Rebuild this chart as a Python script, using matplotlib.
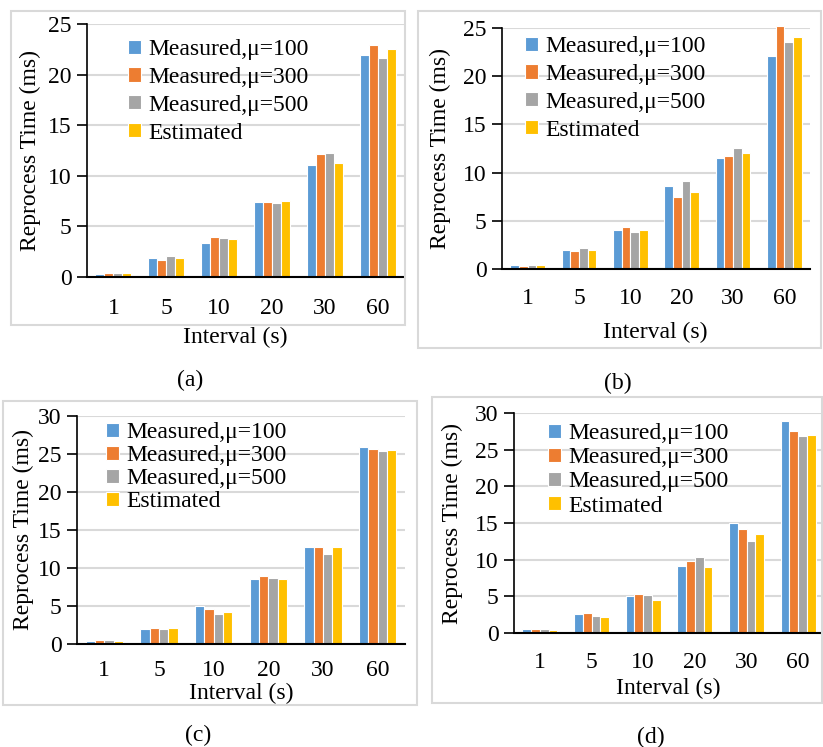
import numpy as np
import matplotlib
matplotlib.use('Agg')
import matplotlib.pyplot as plt
from matplotlib.patches import Rectangle

plt.rcParams['font.family'] = ['Liberation Serif', 'DejaVu Serif']

#########################
######### DATA
#########################

intervals = ['1', '5', '10', '20', '30', '60']
series = ['Measured,μ=100', 'Measured,μ=300', 'Measured,μ=500', 'Estimated']
colors = ['#5B9BD5', '#ED7D31', '#A5A5A5', '#FFC000']

# panel (a)
a_mu100 = [0.33, 1.90, 3.40, 7.40, 11.08, 21.90]
a_mu300 = [0.40, 1.70, 3.95, 7.37, 12.17, 22.96]
a_mu500 = [0.40, 2.10, 3.90, 7.27, 12.24, 21.68]
a_est = [0.35, 1.85, 3.75, 7.50, 11.25, 22.53]

# panel (b)
b_mu100 = [0.38, 2.00, 4.05, 8.58, 11.55, 22.13]
b_mu300 = [0.35, 1.87, 4.40, 7.43, 11.72, 25.17]
b_mu500 = [0.45, 2.21, 3.87, 9.10, 12.55, 23.55]
b_est = [0.41, 2.00, 4.00, 8.02, 12.00, 24.03]

# panel (c)
c_mu100 = [0.40, 1.97, 5.00, 8.55, 12.72, 25.96]
c_mu300 = [0.53, 2.06, 4.56, 8.95, 12.80, 25.60]
c_mu500 = [0.53, 1.93, 3.90, 8.64, 11.84, 25.44]
c_est = [0.40, 2.15, 4.25, 8.50, 12.76, 25.48]

# panel (d)
d_mu100 = [0.54, 2.54, 4.99, 9.12, 15.02, 28.96]
d_mu300 = [0.50, 2.72, 5.31, 9.76, 14.16, 27.60]
d_mu500 = [0.50, 2.31, 5.17, 10.30, 12.57, 26.92]
d_est = [0.45, 2.22, 4.54, 9.03, 13.53, 27.05]

#########################
######### LAYOUT (pixel positions in a 823x747 figure)
#########################

W, H = 823, 747
FS = 17

def fx(x):
    return x / W

def fy(y):
    return 1 - y / H

panels = [
    dict(data=[a_mu100, a_mu300, a_mu500, a_est], ymax=25, cap='(a)',
         ax=(87, 404, 24, 277), box=(11, 405, 11, 325), xpad=15,
         ylab_x=30, xlab=(235, 337), leg=(128, 39), lspace=0.29, capxy=(190, 380)),
    dict(data=[b_mu100, b_mu300, b_mu500, b_est], ymax=25, cap='(b)',
         ax=(502, 810, 28, 269), box=(418, 821, 11, 348), xpad=13.5,
         ylab_x=440, xlab=(655, 332), leg=(525, 36), lspace=0.29, capxy=(618, 383)),
    dict(data=[c_mu100, c_mu300, c_mu500, c_est], ymax=30, cap='(c)',
         ax=(77, 405, 416, 644), box=(3, 417, 401, 705), xpad=11.5,
         ylab_x=23, xlab=(241, 693), leg=(106, 422), lspace=0.085, capxy=(198, 735)),
    dict(data=[d_mu100, d_mu300, d_mu500, d_est], ymax=30, cap='(d)',
         ax=(514, 824, 413, 633), box=(432, 822, 397, 703), xpad=13.5,
         ylab_x=452, xlab=(668, 688), leg=(548, 423), lspace=0.135, capxy=(651, 737)),
]

fig = plt.figure(figsize=(W / 100, H / 100), dpi=100)

x = np.arange(len(intervals))
bw = 0.17

for p in panels:
    # light grey frame round each panel
    bx0, bx1, by0, by1 = p['box']
    fig.patches.append(Rectangle((fx(bx0), fy(by1)), fx(bx1) - fx(bx0), fy(by0) - fy(by1),
                                 transform=fig.transFigure, fill=False,
                                 edgecolor='#D9D9D9', linewidth=1.5, zorder=0))

    x0, x1, y0, y1 = p['ax']
    ax = fig.add_axes([fx(x0), fy(y1), fx(x1) - fx(x0), fy(y0) - fy(y1)])
    ax.patch.set_alpha(0)

    for i, vals in enumerate(p['data']):
        ax.bar(x + (i - 1.5) * bw, vals, width=bw, color=colors[i], edgecolor='white',
               linewidth=0.8, label=series[i], zorder=3, clip_on=False)

    ax.set_xlim(-0.5, len(intervals) - 0.5)
    ax.set_ylim(0, p['ymax'])
    ax.set_yticks(np.arange(0, p['ymax'] + 1, 5))
    ax.set_xticks(x)
    ax.set_xticklabels(intervals)
    ax.tick_params(axis='x', length=0, pad=p['xpad'], labelsize=FS)
    ax.tick_params(axis='y', length=7, width=1.2, pad=4, labelsize=FS)
    ax.grid(axis='y', color='#D9D9D9', linewidth=1.5, zorder=0)
    ax.set_axisbelow(True)
    for s in ['top', 'right']:
        ax.spines[s].set_visible(False)
    ax.spines['left'].set_linewidth(1.2)
    ax.spines['bottom'].set_linewidth(1.5)
    ax.spines['bottom'].set_zorder(4)

    lx, ly = p['leg']
    ax.legend(loc='upper left', bbox_to_anchor=(fx(lx), fy(ly)), bbox_transform=fig.transFigure,
              frameon=False, fontsize=FS, handlelength=0.55, handleheight=0.55,
              handletextpad=0.3, labelspacing=p['lspace'], borderpad=0, borderaxespad=0)

    fig.text(fx(p['ylab_x']), fy((y0 + y1) / 2), 'Reprocess Time (ms)', rotation=90,
             ha='center', va='center', fontsize=FS)
    fig.text(fx(p['xlab'][0]), fy(p['xlab'][1]), 'Interval (s)', ha='center', va='center',
             fontsize=FS)
    fig.text(fx(p['capxy'][0]), fy(p['capxy'][1]), p['cap'], ha='center', va='center',
             fontsize=FS)

fig.savefig('out.png', dpi=100)
